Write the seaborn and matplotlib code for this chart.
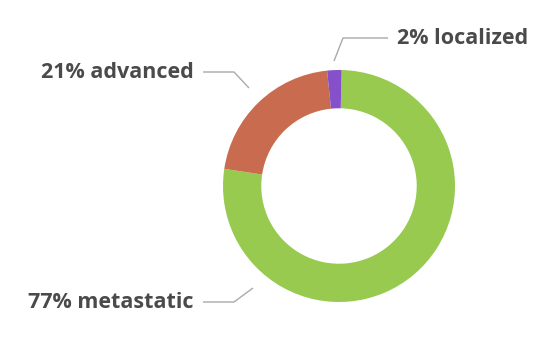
import matplotlib
matplotlib.use("Agg")
import matplotlib.pyplot as plt
import seaborn as sns

categories = ["metastatic", "advanced", "localized"]
values = [77, 21, 2]
labels = ["77% metastatic", "21% advanced", "2% localized"]
colors = ["#98CA4F", "#C96B4E", "#8650CB"]

sns.set_theme(style="white")
plt.rcParams['font.family'] = ['Open Sans', 'DejaVu Sans']

W, H = 548, 346
fig = plt.figure(figsize=(W / 100, H / 100), dpi=100)
ax = fig.add_axes([0, 0, 1, 1])

cx, cy, R = 339, H - 186, 116
ax.pie(values, colors=colors, startangle=88.7, counterclock=False,
       center=(cx, cy), radius=R,
       wedgeprops=dict(width=R * 0.33, edgecolor="none", linewidth=0))
ax.set_xlim(0, W)
ax.set_ylim(0, H)
ax.set_aspect("equal")
ax.axis("off")

line_kw = dict(color="#AAAAAA", lw=1.0, solid_capstyle="butt")
txt_kw = dict(fontsize=15.5, fontweight="bold", color="#4A4A4A", va="center")

# metastatic
ax.plot([203, 234, 253], [H - 302, H - 302, H - 288], **line_kw)
ax.text(194, H - 302, labels[0], ha="right", **txt_kw)
# advanced
ax.plot([203, 234, 249], [H - 72, H - 72, H - 88], **line_kw)
ax.text(194, H - 72, labels[1], ha="right", **txt_kw)
# localized
ax.plot([388, 343, 334], [H - 38, H - 38, H - 61], **line_kw)
ax.text(397, H - 38, labels[2], ha="left", **txt_kw)

fig.savefig("out.png", dpi=100)
